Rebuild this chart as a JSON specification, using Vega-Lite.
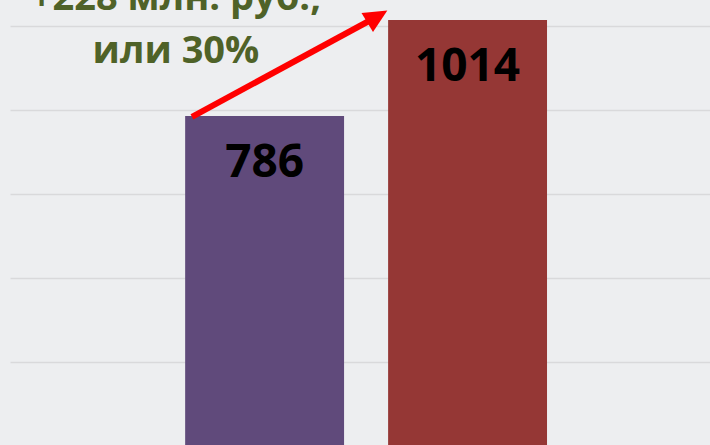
{
  "$schema": "https://vega.github.io/schema/vega-lite/v6.json",
  "width": 700,
  "height": 445,
  "autosize": {"type": "none"},
  "padding": {"left": 10, "top": 0, "right": 0, "bottom": 0},
  "background": "#EDEEF0",
  "config": {"view": {"stroke": null}},
  "datasets": {
    "bars": [
      {"year": "2022", "value": 786},
      {"year": "2023", "value": 1014}
    ],
    "arrow": [
      {"from": "2022", "to": "2023", "v1": 784, "v2": 1022}
    ],
    "note": [
      {"year": "2022", "v": 1038, "label": ["+228 млн. руб.,", "или 30%"]}
    ]
  },
  "layer": [
    {
      "data": {"name": "bars"},
      "mark": {"type": "bar"},
      "encoding": {
        "x": {
          "field": "year", "type": "nominal",
          "scale": {"domain": ["2022", "2023"], "paddingInner": 0.217, "paddingOuter": 0.833, "align": 0.518},
          "axis": null
        },
        "y": {
          "field": "value", "type": "quantitative",
          "scale": {"domain": [3.8, 1061.8], "zero": false, "nice": false},
          "axis": {"values": [200, 400, 600, 800, 1000], "grid": true, "gridColor": "#D9D9DB", "gridWidth": 1.5, "labels": false, "ticks": false, "domain": false, "title": null}
        },
        "color": {
          "field": "year", "type": "nominal",
          "scale": {"domain": ["2022", "2023"], "range": ["#604A7B", "#953735"]},
          "legend": null
        }
      }
    },
    {
      "data": {"name": "bars"},
      "mark": {"type": "text", "font": "Open Sans", "fontWeight": "bold", "fontSize": 46, "color": "#000000", "baseline": "alphabetic", "align": "center", "dy": 61},
      "encoding": {
        "x": {"field": "year", "type": "nominal"},
        "y": {"field": "value", "type": "quantitative"},
        "text": {"field": "value", "type": "quantitative"}
      }
    },
    {
      "data": {"name": "arrow"},
      "mark": {"type": "rule", "color": "#FF0000", "strokeWidth": 6, "strokeCap": "butt"},
      "encoding": {
        "x": {"field": "from", "type": "nominal", "bandPosition": 0.043},
        "x2": {"field": "to", "bandPosition": -0.071},
        "y": {"field": "v1", "type": "quantitative"},
        "y2": {"field": "v2"}
      }
    },
    {
      "data": {"name": "arrow"},
      "mark": {"type": "point", "shape": "M0,-1.1L-1,1L1,1Z", "filled": true, "color": "#FF0000", "opacity": 1, "size": 497, "angle": 59},
      "encoding": {
        "x": {"field": "to", "type": "nominal", "bandPosition": -0.071},
        "y": {"field": "v2", "type": "quantitative"}
      }
    },
    {
      "data": {"name": "note"},
      "mark": {"type": "text", "font": "Open Sans", "fontWeight": "bold", "fontSize": 38, "color": "#4F6228", "baseline": "alphabetic", "align": "center", "lineHeight": 53},
      "encoding": {
        "x": {"field": "year", "type": "nominal", "bandPosition": -0.058},
        "y": {"field": "v", "type": "quantitative"},
        "text": {"field": "label"}
      }
    }
  ]
}
